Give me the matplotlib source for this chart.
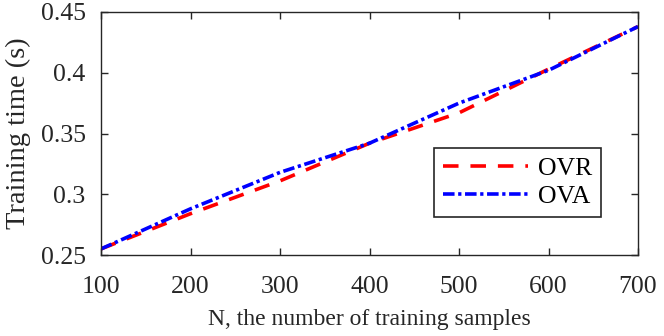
import matplotlib
matplotlib.use("Agg")
import matplotlib.pyplot as plt

plt.rcParams["font.family"] = ["Liberation Serif", "DejaVu Serif"]
plt.rcParams["mathtext.fontset"] = "stix"

n_samples = [100, 200, 300, 400, 500, 600, 700]
ovr_time = [0.255, 0.284, 0.311, 0.342, 0.367, 0.403, 0.438]
ova_time = [0.255, 0.288, 0.318, 0.342, 0.375, 0.402, 0.438]

AX_COLOR = "#262626"

fig = plt.figure(figsize=(6.64, 3.36), dpi=100)
ax = fig.add_axes([101 / 664, 1 - 255 / 336, 537 / 664, 243 / 336])

ax.plot(n_samples, ovr_time, color="red", linestyle=(0, (4.3, 3.3)),
        linewidth=2.6, label="OVR")
ax.plot(n_samples, ova_time, color="blue", linestyle=(0, (3.2, 1.0, 0.9, 1.0)),
        linewidth=2.6, label="OVA")

ax.set_xlim(100, 700)
ax.set_ylim(0.25, 0.45)
ax.set_xticks([100, 200, 300, 400, 500, 600, 700])
ax.set_yticks([0.25, 0.3, 0.35, 0.4, 0.45])
ax.set_yticklabels(["0.25", "0.3", "0.35", "0.4", "0.45"])

ax.tick_params(direction="in", top=True, right=True, length=5, width=1,
               color=AX_COLOR, labelcolor=AX_COLOR, labelsize=18.5)
ax.tick_params(axis="x", pad=15)
ax.tick_params(axis="y", pad=11)
for s in ax.spines.values():
    s.set_color(AX_COLOR)
    s.set_linewidth(1.0)

ax.set_xlabel("N, the number of training samples", fontsize=17, color=AX_COLOR, labelpad=8)
ax.set_ylabel("Training time (s)", fontsize=20.5, color=AX_COLOR, labelpad=7)

leg = ax.legend(loc="lower right", bbox_to_anchor=(0.932, 0.155), fontsize=18.5,
                handlelength=3.3, fancybox=False, framealpha=1,
                edgecolor=AX_COLOR, borderpad=0.35, labelspacing=0.2,
                handletextpad=0.4, borderaxespad=0)
leg.get_frame().set_linewidth(1.2)

fig.savefig("out.png", dpi=100)
